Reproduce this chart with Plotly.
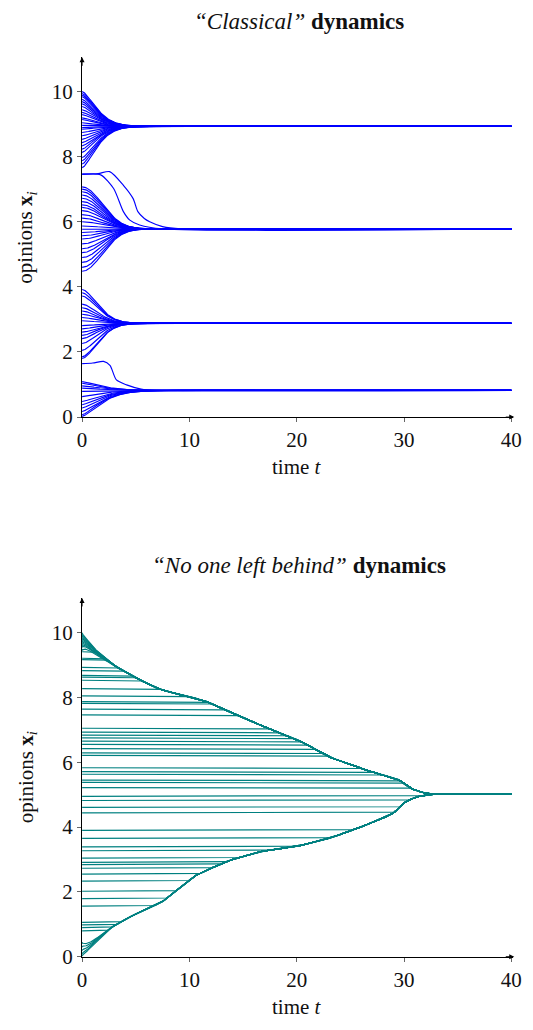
import numpy as np
import plotly.graph_objects as go

# ---------------- data: "Classical" dynamics ----------------
cluster_values = [8.93, 5.78, 2.88, 0.82]
cluster_tau = [1.8, 2.6, 2.0, 2.3]
cluster_p = [1.5, 2.0, 1.7, 1.4]
cluster_initial = [
    [10.0, 9.94, 9.89, 9.84, 9.76, 9.69, 9.62, 9.54, 9.44, 9.36, 9.29, 9.19, 9.14,
     9.04, 8.96, 8.89, 8.84, 8.74, 8.64, 8.53, 8.43, 8.33, 8.23, 8.13, 7.97, 7.87,
     7.77, 7.66],
    [7.07, 7.0, 6.92, 6.82, 6.72, 6.62, 6.52, 6.44, 6.34, 6.22, 6.11, 6.0, 5.87,
     5.77, 5.67, 5.57, 5.47, 5.32, 5.17, 5.05, 4.9, 4.75, 4.6, 4.48],
    [3.92, 3.82, 3.72, 3.47, 3.36, 3.26, 3.16, 3.06, 2.96, 2.81, 2.71, 2.61, 2.51,
     2.41, 2.26, 2.05, 1.85, 1.8],
    [1.09, 1.04, 0.96, 0.89, 0.79, 0.63, 0.48, 0.38, 0.28, 0.17, 0.07, 0.02],
]
# slow agents read point by point
slow_t = [
    [0, 1.5, 2.57, 3.85, 4.76, 5.2, 5.8, 6.3, 7.5, 9.2, 40],
    [0, 1.73, 2.94, 3.85, 4.45, 5.36, 7.5, 40],
    [0, 1.0, 2.0, 2.6, 3.2, 4.15, 5.5, 7.0, 40],
]
slow_x = [
    [7.47, 7.48, 7.54, 7.12, 6.71, 6.31, 6.1, 6.0, 5.85, 5.78, 5.78],
    [7.45, 7.44, 7.02, 6.31, 6.05, 5.9, 5.78, 5.78],
    [1.64, 1.66, 1.71, 1.59, 1.14, 0.99, 0.86, 0.82, 0.82],
]

# ---------------- data: "No one left behind" dynamics ----------------
upper_t = [0, 1, 2.8, 5, 7.06, 9, 11.3, 14.3, 17.7, 20.1, 22.8, 26.2, 29.5, 30.4, 31.6, 32.5, 40]
upper_x = [10, 9.55, 9.03, 8.6, 8.27, 8.09, 7.92, 7.46, 7.0, 6.70, 6.19, 5.78, 5.48, 5.22, 5.07, 5.02, 5.02]
lower_t = [0, 1.3, 2.5, 4.3, 7.4, 10.4, 13.4, 16.5, 20.1, 23, 25.2, 28.3, 29.2, 29.8, 31, 32.5, 40]
lower_x = [0, 0.45, 0.85, 1.21, 1.67, 2.48, 2.94, 3.24, 3.41, 3.65, 3.90, 4.31, 4.46, 4.72, 4.92, 5.02, 5.02]
nolb_active_upper = [10.0, 9.95, 9.9, 9.85, 9.8, 9.75, 9.7, 9.65, 9.6, 9.5]
nolb_waiting = [9.41, 9.21, 9.17, 8.93, 8.83, 8.68, 8.63, 8.53, 8.27, 8.05, 7.87, 7.82,
                7.64, 7.46, 7.05, 6.93, 6.84, 6.75, 6.65, 6.55, 6.42, 6.29, 6.21, 5.83,
                5.71, 5.63, 5.45, 5.38, 5.22, 4.95, 4.82, 4.61, 4.44, 3.90, 3.65, 3.39,
                3.27, 3.04, 2.91, 2.84, 2.73, 2.55, 2.33, 2.02, 1.79, 1.56, 1.06, 0.98,
                0.90, 0.80]
nolb_active_lower = [0.40, 0.30, 0.19, 0.09, 0.02]

BLUE = "#0000ff"
TEAL = "#008080"
FONT = "Liberation Serif"

fig = go.Figure()

# top chart
t1 = np.concatenate([np.linspace(0, 12, 241), [40]])
for c, tau, p, inits in zip(cluster_values, cluster_tau, cluster_p, cluster_initial):
    for x0 in inits:
        y = c + (x0 - c) * np.exp(-(t1 / tau) ** p)
        fig.add_trace(go.Scatter(x=t1, y=y, mode="lines", line=dict(color=BLUE, width=1.15),
                                 xaxis="x", yaxis="y", showlegend=False, hoverinfo="skip"))
for ts, xs in zip(slow_t, slow_x):
    fig.add_trace(go.Scatter(x=ts, y=xs, mode="lines",
                             line=dict(color=BLUE, width=1.15, shape="spline", smoothing=0.7),
                             xaxis="x", yaxis="y", showlegend=False, hoverinfo="skip"))


# bottom chart
def smooth(v, n=10):
    k = np.exp(-0.5 * (np.arange(-3 * n, 3 * n + 1) / n) ** 2)
    k /= k.sum()
    pad = np.concatenate([np.full(3 * n, v[0]), v, np.full(3 * n, v[-1])])
    return np.convolve(pad, k, mode="valid")


t2 = np.linspace(0, 40, 1601)
U = smooth(np.interp(t2, upper_t, upper_x))
L = smooth(np.interp(t2, lower_t, lower_x))
U[0], L[0] = upper_x[0], lower_x[0]
for x0 in nolb_active_upper:
    y = np.minimum(x0, U - (10 - x0) * np.exp(-t2 / 1.0))
    fig.add_trace(go.Scatter(x=t2, y=y, mode="lines", line=dict(color=TEAL, width=1.2),
                             xaxis="x2", yaxis="y2", showlegend=False, hoverinfo="skip"))
for x0 in nolb_waiting:
    y = np.clip(np.full_like(t2, x0), L, U)
    fig.add_trace(go.Scatter(x=t2, y=y, mode="lines", line=dict(color=TEAL, width=1.2),
                             xaxis="x2", yaxis="y2", showlegend=False, hoverinfo="skip"))
for x0 in nolb_active_lower:
    y = np.maximum(x0, L + x0 * np.exp(-t2 / 1.0))
    fig.add_trace(go.Scatter(x=t2, y=y, mode="lines", line=dict(color=TEAL, width=1.2),
                             xaxis="x2", yaxis="y2", showlegend=False, hoverinfo="skip"))

# the figure is pinned to the top-left corner of the window (see post_script)
W, H = 533, 1030


def px(x):
    return x / W


def py(y):
    return 1 - y / H


xdom = [px(79), px(521.2)]
top_dom = [py(422), py(58)]
bot_dom = [py(968), py(605)]

axis_common = dict(showline=True, linecolor="black", linewidth=1, showgrid=False, zeroline=False,
                   ticks="outside", ticklen=4, tickcolor="#666", tickwidth=1,
                   tickfont=dict(family=FONT, size=21, color="#111"))

fig.update_layout(
    width=W, height=H, margin=dict(l=0, r=0, t=0, b=0),
    plot_bgcolor="white", paper_bgcolor="white",
    xaxis=dict(domain=xdom, range=[0, 40.2], tickvals=[0, 10, 20, 30, 40], anchor="y",
               ticklabeloverflow="allow", **axis_common),
    yaxis=dict(domain=top_dom, range=[0, 11.05], tickvals=[0, 2, 4, 6, 8, 10], anchor="x", **axis_common),
    xaxis2=dict(domain=xdom, range=[0, 40.2], tickvals=[0, 10, 20, 30, 40], anchor="y2",
                ticklabeloverflow="allow", **axis_common),
    yaxis2=dict(domain=bot_dom, range=[0, 11.07], tickvals=[0, 2, 4, 6, 8, 10], anchor="x2", **axis_common),
)

ann = []
tfont = dict(family=FONT, size=21, color="#111")
titlefont = dict(family=FONT, size=23, color="#111")
ann.append(dict(text="<i>“Classical”</i> <b>dynamics</b>", x=px(301), y=py(22),
                xref="paper", yref="paper", showarrow=False, font=titlefont,
                xanchor="center", yanchor="middle"))
ann.append(dict(text="<i>“No one left behind”</i> <b>dynamics</b>", x=px(301), y=py(572),
                xref="paper", yref="paper", showarrow=False, font=titlefont,
                xanchor="center", yanchor="middle"))
for yc in (240, 786):
    ann.append(dict(text="opinions <b>x</b><sub><i>i</i></sub>", x=px(22), y=py(yc),
                    xref="paper", yref="paper", showarrow=False, textangle=-90, font=tfont,
                    xanchor="center", yanchor="middle"))
for yc in (473, 1019):
    ann.append(dict(text="time <i>t</i>", x=px(299), y=py(yc),
                    xref="paper", yref="paper", showarrow=False, font=tfont,
                    xanchor="center", yanchor="middle"))
# axis arrows
for ytop, ybase in ((58, 422), (605, 968)):
    ann.append(dict(x=px(79), y=py(ytop), xref="paper", yref="paper", ax=0, ay=10,
                    showarrow=True, arrowhead=2, arrowsize=1, arrowwidth=1, arrowcolor="black", text=""))
    ann.append(dict(x=px(522), y=py(ybase), xref="paper", yref="paper", ax=-10, ay=0,
                    showarrow=True, arrowhead=2, arrowsize=1, arrowwidth=1, arrowcolor="black", text=""))
fig.update_layout(annotations=ann)

pin = (
    "document.documentElement.style.margin='0';"
    "document.body.style.margin='0';"
    "document.documentElement.style.overflow='hidden';"
    "document.body.style.overflow='hidden';"
    "var d=document.getElementById('{plot_id}');"
    "d.style.position='fixed';d.style.left='0px';d.style.top='0px';"
)
fig.write_html("out.html", config={"displayModeBar": False}, post_script=pin)
